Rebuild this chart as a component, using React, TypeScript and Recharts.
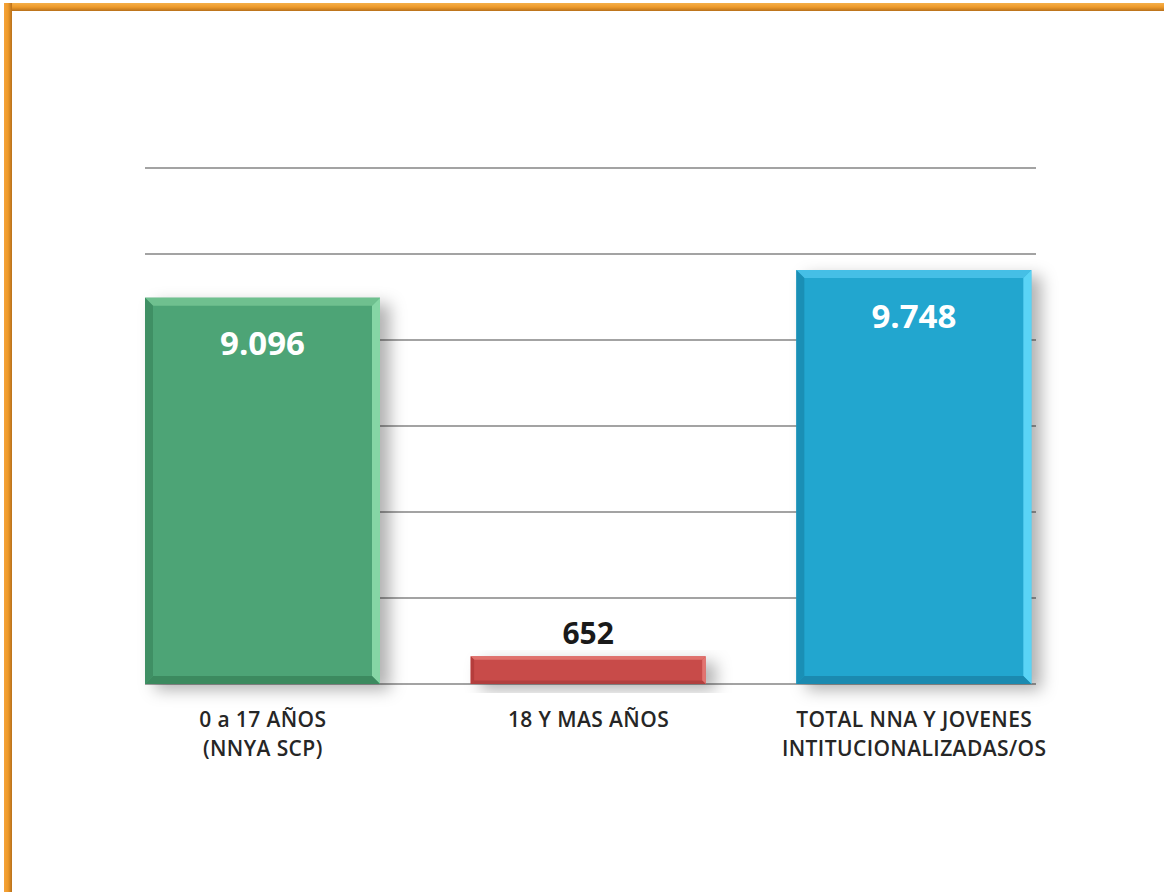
import React from 'react';
import { BarChart, Bar, XAxis, YAxis, CartesianGrid, LabelList, Cell } from 'recharts';

const categories = ['0 a 17 AÑOS\n(NNYA SCP)', '18 Y MAS AÑOS', 'TOTAL NNA Y JOVENES\nINTITUCIONALIZADAS/OS'];
const values = [9096, 652, 9748];
const colors = [
  { main: '#4ea476', top: '#6fc08f', right: '#86d6a5', left: '#3f8f64', bottom: '#3c8a5f' },
  { main: '#c84b4a', top: '#e0716c', right: '#e27470', left: '#b53d3c', bottom: '#b13f3e' },
  { main: '#22a6cf', top: '#45bfe6', right: '#5ad4f6', left: '#1a8fb5', bottom: '#1b8ab0' },
];

const yMax = 12150;
const yTicks = [0, 1, 2, 3, 4, 5, 6].map((i) => (i * yMax) / 6);

const data = categories.map((name, i) => ({ name, value: values[i] }));

const fmt = (v: number) => String(v).replace(/\B(?=(\d{3})+(?!\d))/g, '.');

const BevelBar = (props: any) => {
  const { x, y, width, height, index } = props;
  const c = colors[index];
  const b = Math.min(8, height / 8);
  return (
    <g>
      <rect x={x} y={y} width={width} height={height} fill={c.main} filter="url(#shadow)" />
      <polygon points={`${x},${y} ${x + width},${y} ${x + width - b},${y + b} ${x + b},${y + b}`} fill={c.top} />
      <polygon points={`${x + width},${y} ${x + width},${y + height} ${x + width - b},${y + height - b} ${x + width - b},${y + b}`} fill={c.right} />
      <polygon points={`${x},${y} ${x + b},${y + b} ${x + b},${y + height - b} ${x},${y + height}`} fill={c.left} />
      <polygon points={`${x},${y + height} ${x + b},${y + height - b} ${x + width - b},${y + height - b} ${x + width},${y + height}`} fill={c.bottom} />
    </g>
  );
};

const ValueLabel = (props: any) => {
  const { x, y, width, value } = props;
  const inside = value > 5000;
  return (
    <text
      x={x + width / 2}
      y={inside ? y + 45 : y - 24}
      textAnchor="middle"
      dominantBaseline="central"
      fill={inside ? '#ffffff' : '#1a1a1a'}
      fontFamily="'Open Sans', sans-serif"
      fontWeight={700}
      fontSize={inside ? 33 : 30}
    >
      {fmt(value)}
    </text>
  );
};

const CategoryTick = (props: any) => {
  const { x, y, payload } = props;
  const lines = String(payload.value).split('\n');
  return (
    <text
      x={x}
      y={y}
      textAnchor="middle"
      fill="#262626"
      fontFamily="'Open Sans', sans-serif"
      fontWeight={600}
      fontSize={21}
      letterSpacing={0.4}
    >
      {lines.map((l, i) => (
        <tspan key={i} x={x} dy={i === 0 ? 35 : 29}>
          {l}
        </tspan>
      ))}
    </text>
  );
};

export default function App() {
  return (
    <div style={{ position: 'absolute', left: 0, top: 0, width: 1164, height: 892, background: '#fff', overflow: 'hidden' }}>
      <div style={{ position: 'absolute', left: 4, top: 3, right: 0, height: 8, background: 'linear-gradient(#f5b04a, #ee9a2a 50%, #b8701b)' }} />
      <div style={{ position: 'absolute', left: 4, top: 3, width: 8, bottom: 0, background: 'linear-gradient(90deg, #f5a33a, #ee9a2a 50%, #b8701b)' }} />
      <div style={{ position: 'absolute', left: 0, top: 0 }}>
        <BarChart width={1164} height={892} data={data} margin={{ top: 168, right: 128, left: 145, bottom: 0 }} barSize={235}>
          <defs>
            <filter id="shadow" x="-20%" y="-20%" width="150%" height="150%">
              <feDropShadow dx={10} dy={6} stdDeviation={8} floodColor="#000" floodOpacity={0.3} />
            </filter>
          </defs>
          <CartesianGrid vertical={false} stroke="#a3a3a3" strokeWidth={2} />
          <XAxis
            dataKey="name"
            axisLine={false}
            tickLine={false}
            interval={0}
            padding={{ left: -45, right: -41 }}
            tick={<CategoryTick />}
            height={208}
          />
          <YAxis hide domain={[0, yMax]} ticks={yTicks} />
          <Bar dataKey="value" isAnimationActive={false} shape={<BevelBar />}>
            {data.map((d, i) => (
              <Cell key={i} fill={colors[i].main} />
            ))}
            <LabelList dataKey="value" content={<ValueLabel />} />
          </Bar>
        </BarChart>
      </div>
    </div>
  );
}
